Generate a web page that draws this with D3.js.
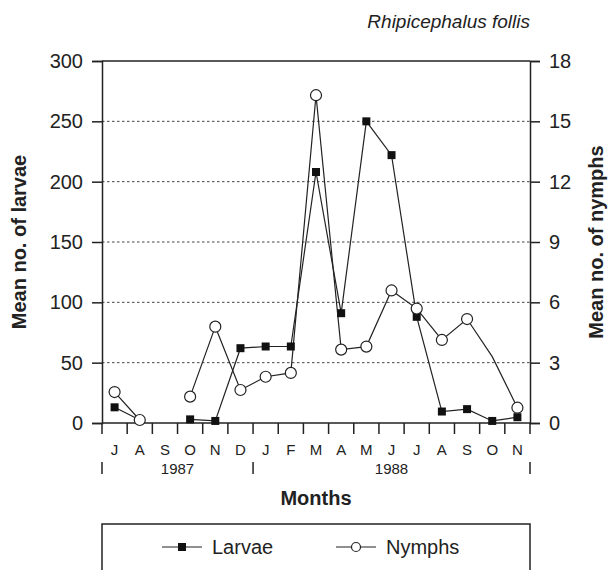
<!DOCTYPE html>
<html>
<head>
<meta charset="utf-8">
<script src="https://cdn.jsdelivr.net/npm/d3@7"></script>
<style>
  html, body { margin: 0; padding: 0; background: #fff; }
  svg { display: block; font-family: "Liberation Sans", Arial, Helvetica, sans-serif; }
</style>
</head>
<body>
<svg id="chart" width="610" height="570"></svg>
<script>
// ---- data ----
const monthKeys = ["1987-07","1987-08","1987-09","1987-10","1987-11","1987-12","1988-01","1988-02","1988-03","1988-04","1988-05","1988-06","1988-07","1988-08","1988-09","1988-10","1988-11"];
const monthLabels = ["J","A","S","O","N","D","J","F","M","A","M","J","J","A","S","O","N"];
const yearLabels = ["1987","1988"];
const yearStartIdx = [0, 6];
const yearEndIdx = [6, 17];
const larvae = [13, 2.5, null, 3, 1.7, 62, 63.4, 63.4, 208, 91, 250, 222, 88, 9.5, 11.5, 1.7, 4.8];
const nymphs = [1.54, 0.15, null, 1.31, 4.79, 1.64, 2.3, 2.49, 16.3, 3.65, 3.8, 6.59, 5.69, 4.13, 5.17, 3.3, 0.76];
const nymphMarkerShown = [true,true,true,true,true,true,true,true,true,true,true,true,true,true,true,false,true];
const leftTicks = [0, 50, 100, 150, 200, 250, 300];
const rightTicks = [0, 3, 6, 9, 12, 15, 18];
const gridValues = [50, 100, 150, 200, 250];

// ---- layout ----
const svg = d3.select("#chart");
const L = 102, R = 530, T = 61, B = 423;
const ink = "#222";

const x = d3.scaleBand().domain(monthKeys).range([L, R]).padding(0);
const yL = d3.scaleLinear().domain([0, 300]).range([B, T]);
const yR = d3.scaleLinear().domain([0, 18]).range([B, T]);
const cx = i => x(monthKeys[i]) + x.bandwidth() / 2;

// grid
svg.append("g").selectAll("line").data(gridValues).join("line")
  .attr("x1", L).attr("x2", R)
  .attr("y1", d => yL(d)).attr("y2", d => yL(d))
  .attr("stroke", "#444").attr("stroke-width", 1).attr("stroke-dasharray", "2.5,2.5");

// frame top
svg.append("line").attr("x1", L).attr("x2", R).attr("y1", T).attr("y2", T)
  .attr("stroke", ink).attr("stroke-width", 1.5);

// left axis
const gL = svg.append("g").attr("transform", `translate(${L},0)`)
  .call(d3.axisLeft(yL).tickValues(leftTicks).tickSize(10).tickPadding(9).tickFormat(d3.format("d")));
// right axis
const gR = svg.append("g").attr("transform", `translate(${R},0)`)
  .call(d3.axisRight(yR).tickValues(rightTicks).tickSize(10).tickPadding(9).tickFormat(d3.format("d")));
[gL, gR].forEach(g => {
  g.select(".domain").attr("stroke", ink).attr("stroke-width", 1.5);
  g.selectAll(".tick line").attr("stroke", ink).attr("stroke-width", 1.5);
  g.selectAll(".tick text").attr("fill", ink).style("font-size", "20px")
    .style("font-family", "'Liberation Sans', Arial, sans-serif");
});

// bottom axis line
svg.append("line").attr("x1", L).attr("x2", R).attr("y1", B).attr("y2", B)
  .attr("stroke", ink).attr("stroke-width", 1.5);

// x ticks at band boundaries
const boundaries = d3.range(monthKeys.length + 1).map(i => i < monthKeys.length ? x(monthKeys[i]) : R);
svg.append("g").selectAll("line").data(boundaries).join("line")
  .attr("x1", d => d).attr("x2", d => d).attr("y1", B).attr("y2", B + 11)
  .attr("stroke", ink).attr("stroke-width", 1.5);

// month labels
svg.append("g").selectAll("text").data(monthLabels).join("text")
  .attr("x", (d, i) => cx(i)).attr("y", 455)
  .attr("text-anchor", "middle").attr("fill", ink)
  .style("font-size", "15px").text(d => d);

// year separators
const sepIdx = [0, 6, 17];
svg.append("g").selectAll("line").data(sepIdx).join("line")
  .attr("x1", d => boundaries[d]).attr("x2", d => boundaries[d])
  .attr("y1", 462).attr("y2", 474)
  .attr("stroke", ink).attr("stroke-width", 1.5);
svg.append("g").selectAll("text").data(yearLabels).join("text")
  .attr("x", (d, i) => (boundaries[yearStartIdx[i]] + boundaries[yearEndIdx[i]]) / 2)
  .attr("y", 474).attr("text-anchor", "middle").attr("fill", ink)
  .style("font-size", "15px").text(d => d);

// axis titles
svg.append("text").attr("x", L + (R - L) / 2).attr("y", 505)
  .attr("text-anchor", "middle").attr("fill", ink)
  .style("font-size", "20px").style("font-weight", "bold").text("Months");
svg.append("text")
  .attr("transform", `translate(26,${(T + B) / 2}) rotate(-90)`)
  .attr("text-anchor", "middle").attr("fill", ink)
  .style("font-size", "20px").style("font-weight", "bold").text("Mean no. of larvae");
svg.append("text")
  .attr("transform", `translate(603,${(T + B) / 2}) rotate(-90)`)
  .attr("text-anchor", "middle").attr("fill", ink)
  .style("font-size", "20px").style("font-weight", "bold").text("Mean no. of nymphs");

// title
svg.append("text").attr("x", R).attr("y", 28).attr("text-anchor", "end")
  .attr("fill", ink).style("font-size", "19px").style("font-style", "italic")
  .text("Rhipicephalus follis");

// lines
const lineL = d3.line().defined(d => d.v != null).x(d => cx(d.i)).y(d => yL(d.v));
const lineR = d3.line().defined(d => d.v != null).x(d => cx(d.i)).y(d => yR(d.v));
const lData = larvae.map((v, i) => ({ v, i }));
const nData = nymphs.map((v, i) => ({ v, i }));
svg.append("path").attr("d", lineL(lData)).attr("fill", "none").attr("stroke", ink).attr("stroke-width", 1.2);
svg.append("path").attr("d", lineR(nData)).attr("fill", "none").attr("stroke", ink).attr("stroke-width", 1.2);

// markers
const sq = 8;
svg.append("g").selectAll("rect").data(lData.filter(d => d.v != null)).join("rect")
  .attr("x", d => cx(d.i) - sq / 2).attr("y", d => yL(d.v) - sq / 2)
  .attr("width", sq).attr("height", sq).attr("fill", "#111");
svg.append("g").selectAll("circle").data(nData.filter(d => d.v != null && nymphMarkerShown[d.i])).join("circle")
  .attr("cx", d => cx(d.i)).attr("cy", d => yR(d.v)).attr("r", 5.5)
  .attr("fill", "#fff").attr("stroke", ink).attr("stroke-width", 1.2);

// legend
svg.append("rect").attr("x", L).attr("y", 524).attr("width", R - L).attr("height", 80)
  .attr("fill", "none").attr("stroke", ink).attr("stroke-width", 1.5);
const legY = 547;
const items = [{ name: "Larvae", x0: 162 }, { name: "Nymphs", x0: 336 }];
items.forEach((it, k) => {
  const g = svg.append("g");
  g.append("line").attr("x1", it.x0).attr("x2", it.x0 + 40).attr("y1", legY).attr("y2", legY)
    .attr("stroke", ink).attr("stroke-width", 1.2);
  if (k === 0) {
    g.append("rect").attr("x", it.x0 + 20 - sq / 2).attr("y", legY - sq / 2)
      .attr("width", sq).attr("height", sq).attr("fill", "#111");
  } else {
    g.append("circle").attr("cx", it.x0 + 20).attr("cy", legY).attr("r", 4.5)
      .attr("fill", "#fff").attr("stroke", ink).attr("stroke-width", 1.2);
  }
  g.append("text").attr("x", it.x0 + 50).attr("y", legY + 7).attr("fill", ink)
    .style("font-size", "20px").text(it.name);
});
</script>
</body>
</html>
